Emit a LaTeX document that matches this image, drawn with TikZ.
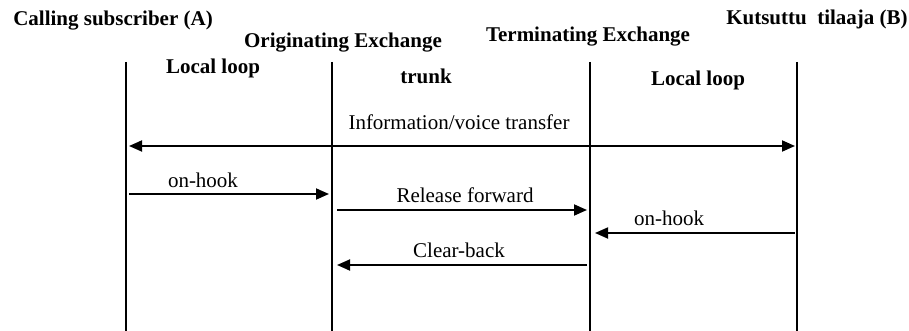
\documentclass[tikz,border=0pt]{standalone}
\usepackage{fontspec}
\setmainfont{Liberation Serif}
\usetikzlibrary{arrows.meta}
\begin{document}
\begin{tikzpicture}[x=1pt,y=-1pt,
  head/.style={font=\fontsize{21}{24}\selectfont\bfseries, inner sep=0pt},
  lbl/.style={font=\fontsize{21}{24}\selectfont, inner sep=0pt},
  life/.style={line width=1.8pt},
  msg/.style={line width=1.8pt, -{Triangle[length=13pt,width=11pt]}},
  msgb/.style={line width=1.8pt, {Triangle[length=13pt,width=11pt]}-{Triangle[length=13pt,width=11pt]}}]
\useasboundingbox (0,0) rectangle (909,331);
% headers
\node[head] (ca) at (113,21) {Calling subscriber (A)};
\node[head] (oe) at (343,43) {Originating Exchange};
\node[head] (te) at (588,37) {Terminating Exchange};
\node[head] (kb) at (817,19) {Kutsuttu\ \ tilaaja (B)};
\node[head] (ll1) at (213,68) {Local loop};
\node[head] (tr) at (426,76) {trunk};
\node[head] (ll2) at (698,80) {Local loop};
% lifelines
\coordinate (a1) at (126,62); \coordinate (a2) at (126,331);
\coordinate (b1) at (332,62); \coordinate (b2) at (332,331);
\coordinate (c1) at (590,62); \coordinate (c2) at (590,331);
\coordinate (d1) at (797,62); \coordinate (d2) at (797,331);
\draw[life] (a1) -- (a2);
\draw[life] (b1) -- (b2);
\draw[life] (c1) -- (c2);
\draw[life] (d1) -- (d2);
% messages
\coordinate (m1s) at (129,146); \coordinate (m1e) at (795,146);
\draw[msgb] (m1s) -- (m1e);
\node[lbl] (m1l) at (459,122) {Information/voice transfer};
\coordinate (m2s) at (129,194); \coordinate (m2e) at (329,194);
\draw[msg] (m2s) -- (m2e);
\node[lbl] (m2l) at (203,180) {on-hook};
\coordinate (m3s) at (337,210); \coordinate (m3e) at (587,210);
\draw[msg] (m3s) -- (m3e);
\node[lbl] (m3l) at (465,195) {Release forward};
\coordinate (m4s) at (795,233); \coordinate (m4e) at (595,233);
\draw[msg] (m4s) -- (m4e);
\node[lbl] (m4l) at (669,218) {on-hook};
\coordinate (m5s) at (587,265); \coordinate (m5e) at (337,265);
\draw[msg] (m5s) -- (m5e);
\node[lbl] (m5l) at (459,250) {Clear-back};
\end{tikzpicture}
\end{document}
